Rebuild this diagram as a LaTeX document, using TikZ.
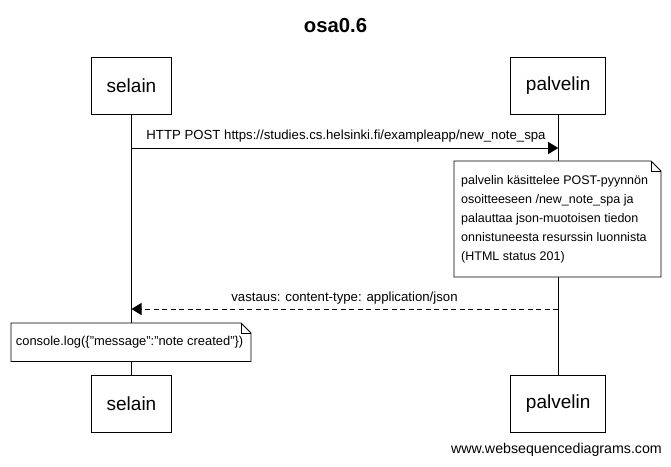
\documentclass[tikz,border=0pt]{standalone}
\usepackage{fontspec}
\setmainfont{Liberation Sans}
\usetikzlibrary{arrows.meta}
\begin{document}
\begin{tikzpicture}[x=1pt,y=-1pt,
  actor/.style={draw,line width=0.9pt,minimum height=57pt,inner sep=0pt,font=\fontsize{19}{21}\selectfont},
  life/.style={line width=0.9pt},
  msg/.style={line width=0.9pt,-{Triangle[length=10pt,width=12pt]}},
  lbl/.style={font=\fontsize{13.2}{15}\selectfont,inner sep=0pt},
  notetxt/.style={font=\fontsize{12.5}{19}\selectfont,inner sep=0pt,align=left},
  foldbox/.style={draw,line width=0.9pt,fill=white}]
\useasboundingbox (0,0) rectangle (671,466);
\node[font=\fontsize{20.3}{24}\selectfont\bfseries] (title) at (335.5,26) {osa0.6};
% actors
\node[actor,minimum width=80pt] (s1) at (131.5,85.5) {selain};
\node[actor,minimum width=94.6pt] (p1) at (558.2,85.5) {palvelin};
\node[actor,minimum width=80pt] (s2) at (131.5,403.5) {selain};
\node[actor,minimum width=94.6pt] (p2) at (558.2,403.5) {palvelin};
\draw[life] (s1.south) -- (s2.north);
\draw[life] (p1.south) -- (p2.north);
% message 1
\coordinate (m1s) at (131.5,148);
\coordinate (m1e) at (558.2,148);
\draw[msg] (m1s) -- (m1e);
\node[lbl] (l1) at (346,136) {HTTP POST https://studies.cs.helsinki.fi/exampleapp/new\_note\_spa};
% note 1
\draw[foldbox] (454,161) -- (651,161) -- (661,171) -- (661,277) -- (454,277) -- cycle;
\draw[line width=0.9pt] (651,161) -- (651,171) -- (661,171);
\node[notetxt,anchor=north west] (n1) at (461,175) {palvelin käsittelee POST-pyynnön\\osoitteeseen /new\_note\_spa ja\\palauttaa json-muotoisen tiedon\\onnistuneesta resurssin luonnista\\(HTML status 201)};
% message 2
\coordinate (m2s) at (558.2,309);
\coordinate (m2e) at (131.5,309);
\draw[msg,dash pattern=on 5pt off 3.5pt] (m2s) -- (m2e);
\node[lbl] (l2) at (344.5,298) {vastaus: content-type: application/json};
% note 2
\draw[foldbox] (11,323) -- (241,323) -- (251,333) -- (251,361.5) -- (11,361.5) -- cycle;
\draw[line width=0.9pt] (241,323) -- (241,333) -- (251,333);
\node[inner sep=0pt,font=\fontsize{12.9}{15}\selectfont,anchor=west] (n2) at (15.7,342) {console.log(\{"message":"note created"\})};
% footer
\node[inner sep=0pt,anchor=east,font=\fontsize{14.2}{16}\selectfont] (ft) at (662,450) {www.websequencediagrams.com};
\end{tikzpicture}
\end{document}
